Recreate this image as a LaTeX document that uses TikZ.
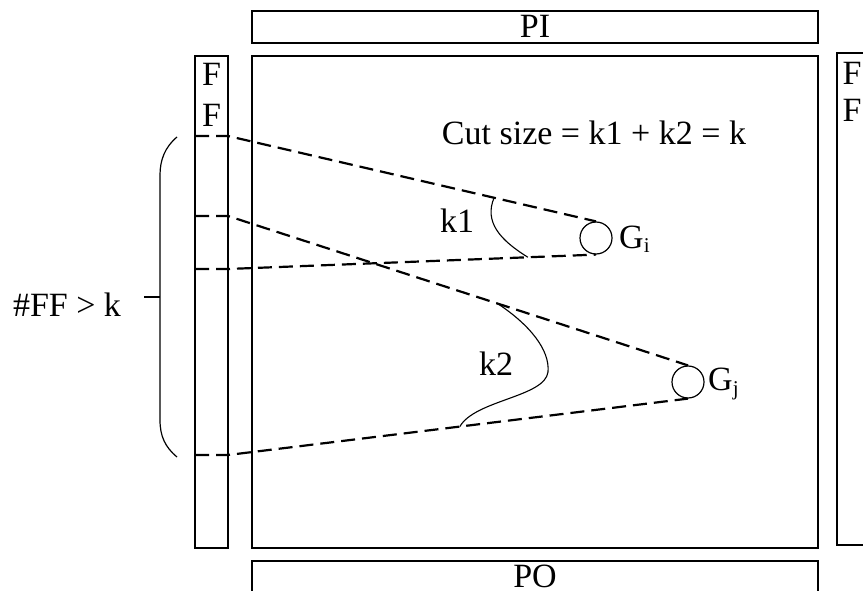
\documentclass[tikz,border=0pt]{standalone}
\usepackage{fontspec}
\setmainfont{Liberation Serif}
\begin{document}
\begin{tikzpicture}[x=1pt,y=-1pt,
  box/.style={draw,line width=1.2pt,inner sep=0pt,outer sep=0pt,rectangle},
  lbl/.style={font=\fontsize{34}{38}\selectfont,inner sep=0pt,anchor=base},
  gate/.style={draw,circle,line width=1.2pt,minimum size=32pt,inner sep=0pt},
  dashline/.style={line width=2.2pt,dash pattern=on 14pt off 7pt},
  cutline/.style={line width=1.1pt}]
\useasboundingbox (0,0) rectangle (863,591);
\clip (0,0) rectangle (863,591);
% boxes
\node[box,minimum width=566pt,minimum height=32pt] (PI) at (535,27) {};
\node[box,minimum width=566pt,minimum height=492pt] (main) at (535,302) {};
\node[box,minimum width=566pt,minimum height=34pt] (PO) at (535,578) {};
\node[box,minimum width=33pt,minimum height=492pt] (lff) at (211.5,302) {};
\node[box,minimum width=33pt,minimum height=492pt] (rff) at (853.5,299) {};
% texts
\node[lbl] (tPI) at (535,38) {PI};
\node[lbl] (tPO) at (535,587) {PO};
\node[lbl] (lf1) at (211.5,86) {F};
\node[lbl] (lf2) at (211.5,127) {F};
\node[lbl] (rf1) at (852,85) {F};
\node[lbl] (rf2) at (852,122) {F};
\node[lbl] (cut) at (594,145) {Cut size = k1 + k2 = k};
\node[lbl] (ff) at (67,316) {\#FF > k};
\node[lbl] (k1) at (457,233) {k1};
\node[lbl] (k2) at (496,375) {k2};
% gates
\node[gate] (Gi) at (596,238) {};
\node[gate] (Gj) at (688,382) {};
\node[lbl,anchor=base west] (tGi) at (619,248) {G\raisebox{-5pt}{\fontsize{21}{22}\selectfont i}};
\node[lbl,anchor=base west] (tGj) at (708,390) {G\raisebox{-5pt}{\fontsize{21}{22}\selectfont j}};
% flip-flop coordinates
\coordinate (L1) at (195,136); \coordinate (M1) at (228,136);
\coordinate (L2) at (195,216); \coordinate (M2) at (228,216);
\coordinate (L3) at (195,269); \coordinate (M3) at (228,269);
\coordinate (L4) at (195,455); \coordinate (M4) at (228,455);
% dashed paths
\draw[dashline] (L1) -- (M1) -- coordinate[pos=0.723] (c1a) (Gi.north);
\draw[dashline] (L3) -- (M3) -- coordinate[pos=0.815] (c1b) (Gi.south);
\draw[dashline] (L2) -- (M2) -- coordinate[pos=0.586] (c2a) (Gj.north);
\draw[dashline] (L4) -- (M4) -- coordinate[pos=0.504] (c2b) (Gj.south);
% cuts
\draw[cutline] (c1a) .. controls (484,222) and (500,240) .. (c1b);
\coordinate (k2mid) at (548,372);
\draw[cutline] (c2a) .. controls (530,325) and (550,350) .. (k2mid)
  .. controls (545,397) and (475,400) .. (c2b);
% brace
\coordinate (bt) at (177,137);
\coordinate (bb) at (177,457);
\coordinate (bm) at (160,297);
\coordinate (tick) at (144,297);
\draw[line width=1.2pt] (bt) .. controls (165,147) and (160,160) .. (160,175)
  -- (160,420) .. controls (160,436) and (165,447) .. (bb);
\draw[line width=1.2pt] (tick) -- (bm);
\end{tikzpicture}
\end{document}
